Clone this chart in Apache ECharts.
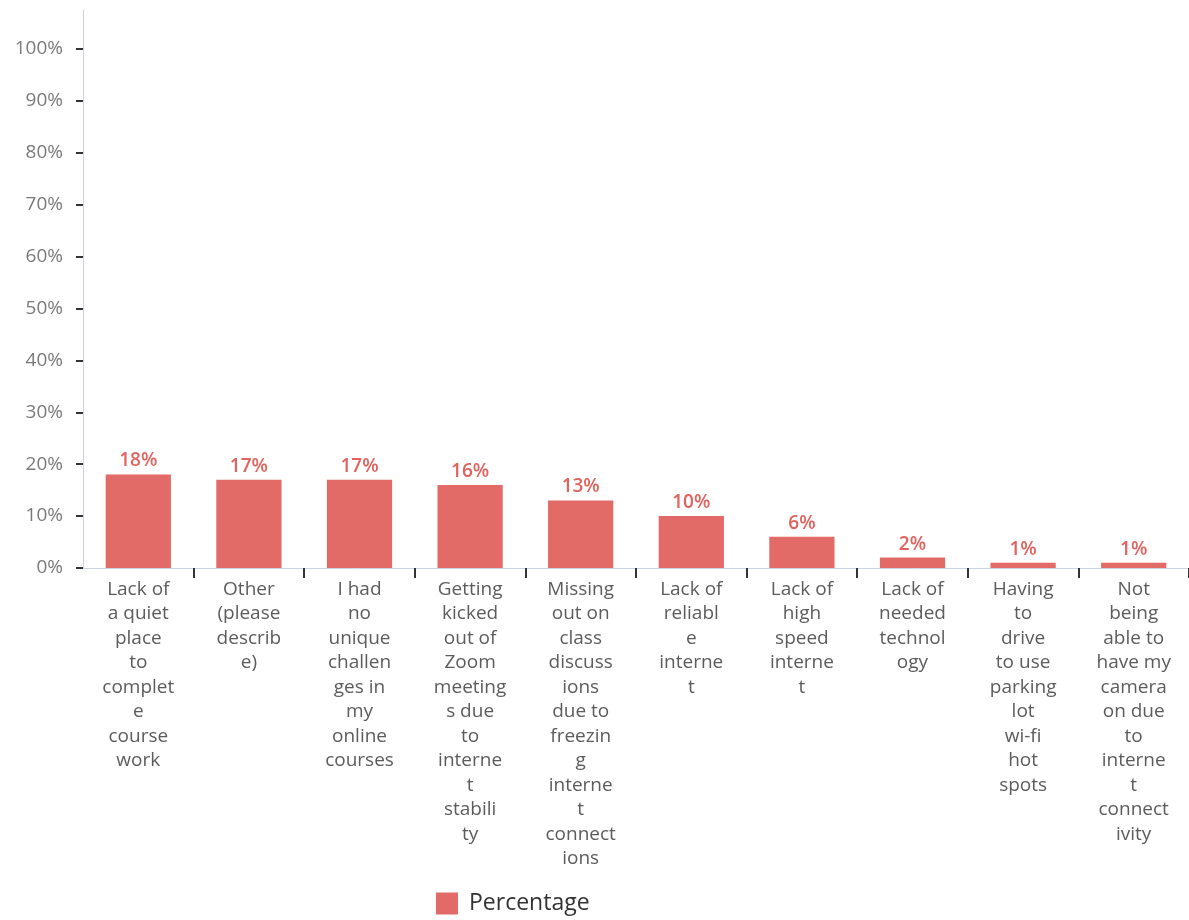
<!DOCTYPE html>
<html>
<head>
<meta charset="utf-8">
<script src="https://cdn.jsdelivr.net/npm/echarts@6/dist/echarts.min.js"></script>
<style>
  html, body { margin: 0; padding: 0; background: #ffffff; }
  #chart { width: 1189px; height: 920px; }
</style>
</head>
<body>
<div id="chart"></div>
<script>
// Survey responses: challenges faced in online courses
const categoryLines = [
  ['Lack of', 'a quiet', 'place', 'to', 'complet', 'e', 'course', 'work'],
  ['Other', '(please', 'describ', 'e)'],
  ['I had', 'no', 'unique', 'challen', 'ges in', 'my', 'online', 'courses'],
  ['Getting', 'kicked', 'out of', 'Zoom', 'meeting', 's due', 'to', 'interne', 't', 'stabili', 'ty'],
  ['Missing', 'out on', 'class', 'discuss', 'ions', 'due to', 'freezin', 'g', 'interne', 't', 'connect', 'ions'],
  ['Lack of', 'reliabl', 'e', 'interne', 't'],
  ['Lack of', 'high', 'speed', 'interne', 't'],
  ['Lack of', 'needed', 'technol', 'ogy'],
  ['Having', 'to', 'drive', 'to use', 'parking', 'lot', 'wi-fi', 'hot', 'spots'],
  ['Not', 'being', 'able to', 'have my', 'camera', 'on due', 'to', 'interne', 't', 'connect', 'ivity']
];
const percentages = [18, 17, 17, 16, 13, 10, 6, 2, 1, 1];
const yTicks = [0, 10, 20, 30, 40, 50, 60, 70, 80, 90, 100];
const seriesName = 'Percentage';

const categories = categoryLines.map(lines => lines.join('\n'));
const barColor = '#e36b67';
const font = '"Open Sans", "Noto Sans", sans-serif';

const chart = echarts.init(document.getElementById('chart'), null, { renderer: 'canvas' });
chart.setOption({
  backgroundColor: '#ffffff',
  animation: false,
  textStyle: { fontFamily: font },
  grid: { left: 83, top: 10, width: 1110, bottom: 352, containLabel: false },
  legend: {
    data: [seriesName],
    left: 431,
    top: 887,
    icon: 'rect',
    itemWidth: 22,
    itemHeight: 22,
    itemGap: 10,
    textStyle: { fontSize: 23, color: '#333333', fontFamily: font, padding: [0, 0, 0, 6] }
  },
  xAxis: {
    type: 'category',
    data: categories,
    axisLine: { show: true, lineStyle: { color: '#cdd2e2', width: 1 } },
    axisTick: {
      show: true,
      length: 10,
      interval: i => i > 0,
      lineStyle: { color: '#333333', width: 2 }
    },
    axisLabel: {
      interval: 0,
      margin: 9,
      fontSize: 19,
      lineHeight: 24.5,
      color: '#5c5c5c',
      fontFamily: font,
      align: 'center'
    }
  },
  yAxis: {
    type: 'value',
    min: 0,
    max: 107.5,
    interval: 10,
    splitLine: { show: false },
    axisLine: { show: true, lineStyle: { color: '#cdd2e2', width: 1 } },
    axisTick: {
      show: true,
      length: 7,
      customValues: yTicks,
      lineStyle: { color: '#333333', width: 2 }
    },
    axisLabel: {
      customValues: yTicks,
      margin: 20,
      fontSize: 19,
      color: '#7a7a7a',
      fontFamily: font,
      formatter: v => v + '%'
    }
  },
  series: [{
    name: seriesName,
    type: 'bar',
    data: percentages,
    barWidth: '59%',
    itemStyle: { color: barColor },
    label: {
      show: true,
      position: 'top',
      distance: 4,
      fontSize: 19,
      fontWeight: 600,
      color: '#e2625e',
      fontFamily: font,
      formatter: p => p.value + '%'
    }
  }]
});
</script>
</body>
</html>
